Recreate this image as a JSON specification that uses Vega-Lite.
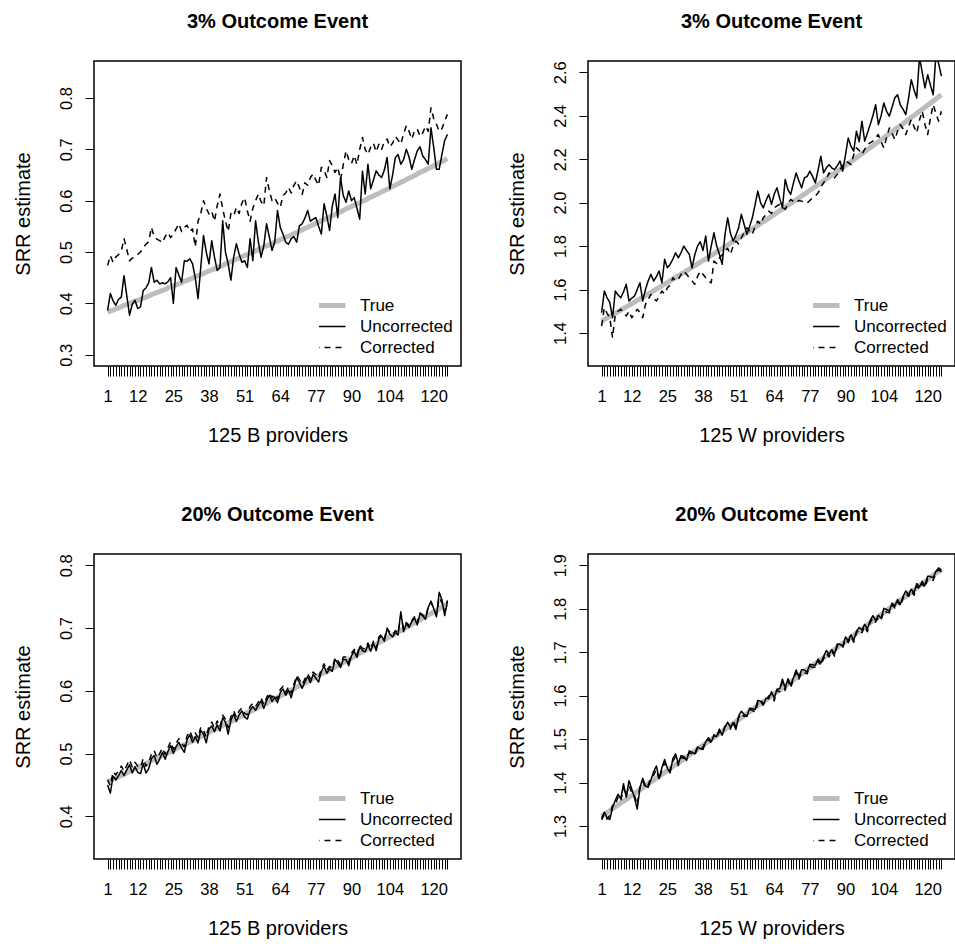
{
"$schema":"https://vega.github.io/schema/vega-lite/v6.json",
"background":"white",
"padding":{"left":12,"top":11,"right":0,"bottom":0},
"bounds":"flush",
"spacing":{"row":188,"column":127},
"columns":2,
"config":{
 "font":"Liberation Sans",
 "view":{"stroke":"black","strokeWidth":1.5},
 "axis":{"labelFont":"Liberation Sans","labelFontSize":16.5,"labelColor":"black","titleFont":"Liberation Sans","titleFontSize":20,"titleFontWeight":"normal","titleColor":"black","tickColor":"black","tickWidth":1,"domain":false,"grid":false},
 "legend":{"labelFont":"Liberation Sans","labelFontSize":17,"labelColor":"black","orient":"bottom-right","offset":8,"padding":0,"symbolSize":256,"labelOffset":20,"rowPadding":0,"clipHeight":21},
 "title":{"font":"Liberation Sans","fontSize":20,"fontWeight":"bold","color":"black","offset":29,"frame":"group","anchor":"middle","baseline":"alphabetic"},
 "line":{"strokeCap":"butt","strokeJoin":"round"}
},
"resolve":{"scale":{"x":"independent","y":"independent","color":"independent","strokeDash":"independent","strokeWidth":"independent"},"legend":{"color":"independent","strokeDash":"independent","strokeWidth":"independent"}},
"datasets":{"srr":[
{"g":"A","p":1,"True":0.383,"Uncorrected":0.386,"Corrected":0.474},
{"g":"A","p":2,"True":0.385,"Uncorrected":0.419,"Corrected":0.493},
{"g":"A","p":3,"True":0.387,"Uncorrected":0.405,"Corrected":0.480},
{"g":"A","p":4,"True":0.389,"Uncorrected":0.396,"Corrected":0.490},
{"g":"A","p":5,"True":0.391,"Uncorrected":0.408,"Corrected":0.495},
{"g":"A","p":6,"True":0.393,"Uncorrected":0.412,"Corrected":0.502},
{"g":"A","p":7,"True":0.396,"Uncorrected":0.454,"Corrected":0.526},
{"g":"A","p":8,"True":0.398,"Uncorrected":0.415,"Corrected":0.505},
{"g":"A","p":9,"True":0.400,"Uncorrected":0.377,"Corrected":0.483},
{"g":"A","p":10,"True":0.402,"Uncorrected":0.398,"Corrected":0.488},
{"g":"A","p":11,"True":0.404,"Uncorrected":0.406,"Corrected":0.490},
{"g":"A","p":12,"True":0.406,"Uncorrected":0.390,"Corrected":0.495},
{"g":"A","p":13,"True":0.408,"Uncorrected":0.393,"Corrected":0.500},
{"g":"A","p":14,"True":0.410,"Uncorrected":0.425,"Corrected":0.509},
{"g":"A","p":15,"True":0.412,"Uncorrected":0.430,"Corrected":0.515},
{"g":"A","p":16,"True":0.414,"Uncorrected":0.440,"Corrected":0.520},
{"g":"A","p":17,"True":0.417,"Uncorrected":0.470,"Corrected":0.548},
{"g":"A","p":18,"True":0.419,"Uncorrected":0.441,"Corrected":0.530},
{"g":"A","p":19,"True":0.421,"Uncorrected":0.445,"Corrected":0.525},
{"g":"A","p":20,"True":0.423,"Uncorrected":0.438,"Corrected":0.522},
{"g":"A","p":21,"True":0.425,"Uncorrected":0.440,"Corrected":0.518},
{"g":"A","p":22,"True":0.427,"Uncorrected":0.438,"Corrected":0.530},
{"g":"A","p":23,"True":0.430,"Uncorrected":0.442,"Corrected":0.538},
{"g":"A","p":24,"True":0.432,"Uncorrected":0.450,"Corrected":0.528},
{"g":"A","p":25,"True":0.434,"Uncorrected":0.400,"Corrected":0.535},
{"g":"A","p":26,"True":0.436,"Uncorrected":0.470,"Corrected":0.545},
{"g":"A","p":27,"True":0.438,"Uncorrected":0.455,"Corrected":0.555},
{"g":"A","p":28,"True":0.440,"Uncorrected":0.441,"Corrected":0.540},
{"g":"A","p":29,"True":0.443,"Uncorrected":0.483,"Corrected":0.548},
{"g":"A","p":30,"True":0.445,"Uncorrected":0.482,"Corrected":0.552},
{"g":"A","p":31,"True":0.447,"Uncorrected":0.487,"Corrected":0.540},
{"g":"A","p":32,"True":0.449,"Uncorrected":0.477,"Corrected":0.545},
{"g":"A","p":33,"True":0.452,"Uncorrected":0.450,"Corrected":0.510},
{"g":"A","p":34,"True":0.454,"Uncorrected":0.409,"Corrected":0.560},
{"g":"A","p":35,"True":0.456,"Uncorrected":0.470,"Corrected":0.575},
{"g":"A","p":36,"True":0.458,"Uncorrected":0.532,"Corrected":0.600},
{"g":"A","p":37,"True":0.461,"Uncorrected":0.500,"Corrected":0.585},
{"g":"A","p":38,"True":0.463,"Uncorrected":0.477,"Corrected":0.574},
{"g":"A","p":39,"True":0.465,"Uncorrected":0.522,"Corrected":0.580},
{"g":"A","p":40,"True":0.467,"Uncorrected":0.490,"Corrected":0.560},
{"g":"A","p":41,"True":0.470,"Uncorrected":0.464,"Corrected":0.590},
{"g":"A","p":42,"True":0.472,"Uncorrected":0.470,"Corrected":0.613},
{"g":"A","p":43,"True":0.474,"Uncorrected":0.561,"Corrected":0.585},
{"g":"A","p":44,"True":0.477,"Uncorrected":0.500,"Corrected":0.560},
{"g":"A","p":45,"True":0.479,"Uncorrected":0.477,"Corrected":0.540},
{"g":"A","p":46,"True":0.481,"Uncorrected":0.445,"Corrected":0.575},
{"g":"A","p":47,"True":0.484,"Uncorrected":0.490,"Corrected":0.570},
{"g":"A","p":48,"True":0.486,"Uncorrected":0.516,"Corrected":0.587},
{"g":"A","p":49,"True":0.488,"Uncorrected":0.496,"Corrected":0.575},
{"g":"A","p":50,"True":0.491,"Uncorrected":0.480,"Corrected":0.595},
{"g":"A","p":51,"True":0.493,"Uncorrected":0.483,"Corrected":0.606},
{"g":"A","p":52,"True":0.495,"Uncorrected":0.470,"Corrected":0.580},
{"g":"A","p":53,"True":0.498,"Uncorrected":0.526,"Corrected":0.560},
{"g":"A","p":54,"True":0.500,"Uncorrected":0.483,"Corrected":0.585},
{"g":"A","p":55,"True":0.502,"Uncorrected":0.561,"Corrected":0.600},
{"g":"A","p":56,"True":0.505,"Uncorrected":0.520,"Corrected":0.613},
{"g":"A","p":57,"True":0.507,"Uncorrected":0.490,"Corrected":0.598},
{"g":"A","p":58,"True":0.510,"Uncorrected":0.512,"Corrected":0.590},
{"g":"A","p":59,"True":0.512,"Uncorrected":0.555,"Corrected":0.645},
{"g":"A","p":60,"True":0.514,"Uncorrected":0.530,"Corrected":0.620},
{"g":"A","p":61,"True":0.516,"Uncorrected":0.503,"Corrected":0.600},
{"g":"A","p":62,"True":0.519,"Uncorrected":0.520,"Corrected":0.605},
{"g":"A","p":63,"True":0.521,"Uncorrected":0.581,"Corrected":0.595},
{"g":"A","p":64,"True":0.524,"Uncorrected":0.548,"Corrected":0.587},
{"g":"A","p":65,"True":0.526,"Uncorrected":0.535,"Corrected":0.610},
{"g":"A","p":66,"True":0.529,"Uncorrected":0.519,"Corrected":0.615},
{"g":"A","p":67,"True":0.531,"Uncorrected":0.515,"Corrected":0.626},
{"g":"A","p":68,"True":0.533,"Uncorrected":0.526,"Corrected":0.615},
{"g":"A","p":69,"True":0.536,"Uncorrected":0.530,"Corrected":0.630},
{"g":"A","p":70,"True":0.538,"Uncorrected":0.519,"Corrected":0.639},
{"g":"A","p":71,"True":0.541,"Uncorrected":0.551,"Corrected":0.625},
{"g":"A","p":72,"True":0.543,"Uncorrected":0.555,"Corrected":0.612},
{"g":"A","p":73,"True":0.546,"Uncorrected":0.566,"Corrected":0.635},
{"g":"A","p":74,"True":0.548,"Uncorrected":0.581,"Corrected":0.630},
{"g":"A","p":75,"True":0.551,"Uncorrected":0.560,"Corrected":0.645},
{"g":"A","p":76,"True":0.553,"Uncorrected":0.564,"Corrected":0.652},
{"g":"A","p":77,"True":0.556,"Uncorrected":0.567,"Corrected":0.640},
{"g":"A","p":78,"True":0.558,"Uncorrected":0.550,"Corrected":0.630},
{"g":"A","p":79,"True":0.561,"Uncorrected":0.535,"Corrected":0.665},
{"g":"A","p":80,"True":0.563,"Uncorrected":0.594,"Corrected":0.660},
{"g":"A","p":81,"True":0.566,"Uncorrected":0.570,"Corrected":0.645},
{"g":"A","p":82,"True":0.568,"Uncorrected":0.542,"Corrected":0.678},
{"g":"A","p":83,"True":0.571,"Uncorrected":0.590,"Corrected":0.668},
{"g":"A","p":84,"True":0.573,"Uncorrected":0.613,"Corrected":0.655},
{"g":"A","p":85,"True":0.576,"Uncorrected":0.567,"Corrected":0.665},
{"g":"A","p":86,"True":0.578,"Uncorrected":0.645,"Corrected":0.640},
{"g":"A","p":87,"True":0.581,"Uncorrected":0.610,"Corrected":0.670},
{"g":"A","p":88,"True":0.584,"Uncorrected":0.597,"Corrected":0.697},
{"g":"A","p":89,"True":0.586,"Uncorrected":0.619,"Corrected":0.680},
{"g":"A","p":90,"True":0.589,"Uncorrected":0.600,"Corrected":0.672},
{"g":"A","p":91,"True":0.591,"Uncorrected":0.606,"Corrected":0.688},
{"g":"A","p":92,"True":0.594,"Uncorrected":0.585,"Corrected":0.670},
{"g":"A","p":93,"True":0.596,"Uncorrected":0.564,"Corrected":0.700},
{"g":"A","p":94,"True":0.599,"Uncorrected":0.658,"Corrected":0.723},
{"g":"A","p":95,"True":0.601,"Uncorrected":0.613,"Corrected":0.700},
{"g":"A","p":96,"True":0.604,"Uncorrected":0.671,"Corrected":0.690},
{"g":"A","p":97,"True":0.607,"Uncorrected":0.623,"Corrected":0.704},
{"g":"A","p":98,"True":0.609,"Uncorrected":0.640,"Corrected":0.712},
{"g":"A","p":99,"True":0.612,"Uncorrected":0.658,"Corrected":0.695},
{"g":"A","p":100,"True":0.614,"Uncorrected":0.650,"Corrected":0.710},
{"g":"A","p":101,"True":0.617,"Uncorrected":0.645,"Corrected":0.700},
{"g":"A","p":102,"True":0.620,"Uncorrected":0.660,"Corrected":0.715},
{"g":"A","p":103,"True":0.622,"Uncorrected":0.684,"Corrected":0.720},
{"g":"A","p":104,"True":0.625,"Uncorrected":0.623,"Corrected":0.705},
{"g":"A","p":105,"True":0.628,"Uncorrected":0.650,"Corrected":0.712},
{"g":"A","p":106,"True":0.630,"Uncorrected":0.684,"Corrected":0.725},
{"g":"A","p":107,"True":0.633,"Uncorrected":0.690,"Corrected":0.718},
{"g":"A","p":108,"True":0.636,"Uncorrected":0.671,"Corrected":0.710},
{"g":"A","p":109,"True":0.638,"Uncorrected":0.680,"Corrected":0.730},
{"g":"A","p":110,"True":0.641,"Uncorrected":0.700,"Corrected":0.746},
{"g":"A","p":111,"True":0.644,"Uncorrected":0.685,"Corrected":0.735},
{"g":"A","p":112,"True":0.646,"Uncorrected":0.661,"Corrected":0.720},
{"g":"A","p":113,"True":0.649,"Uncorrected":0.680,"Corrected":0.736},
{"g":"A","p":114,"True":0.652,"Uncorrected":0.697,"Corrected":0.740},
{"g":"A","p":115,"True":0.655,"Uncorrected":0.705,"Corrected":0.725},
{"g":"A","p":116,"True":0.657,"Uncorrected":0.687,"Corrected":0.732},
{"g":"A","p":117,"True":0.660,"Uncorrected":0.680,"Corrected":0.745},
{"g":"A","p":118,"True":0.663,"Uncorrected":0.671,"Corrected":0.735},
{"g":"A","p":119,"True":0.665,"Uncorrected":0.742,"Corrected":0.781},
{"g":"A","p":120,"True":0.668,"Uncorrected":0.704,"Corrected":0.760},
{"g":"A","p":121,"True":0.671,"Uncorrected":0.661,"Corrected":0.749},
{"g":"A","p":122,"True":0.674,"Uncorrected":0.661,"Corrected":0.735},
{"g":"A","p":123,"True":0.676,"Uncorrected":0.690,"Corrected":0.740},
{"g":"A","p":124,"True":0.679,"Uncorrected":0.717,"Corrected":0.755},
{"g":"A","p":125,"True":0.682,"Uncorrected":0.729,"Corrected":0.768},
{"g":"B","p":1,"True":1.455,"Uncorrected":1.493,"Corrected":1.432},
{"g":"B","p":2,"True":1.462,"Uncorrected":1.593,"Corrected":1.516},
{"g":"B","p":3,"True":1.469,"Uncorrected":1.562,"Corrected":1.490},
{"g":"B","p":4,"True":1.477,"Uncorrected":1.540,"Corrected":1.470},
{"g":"B","p":5,"True":1.484,"Uncorrected":1.470,"Corrected":1.378},
{"g":"B","p":6,"True":1.491,"Uncorrected":1.593,"Corrected":1.486},
{"g":"B","p":7,"True":1.498,"Uncorrected":1.575,"Corrected":1.500},
{"g":"B","p":8,"True":1.506,"Uncorrected":1.562,"Corrected":1.509},
{"g":"B","p":9,"True":1.513,"Uncorrected":1.590,"Corrected":1.495},
{"g":"B","p":10,"True":1.520,"Uncorrected":1.624,"Corrected":1.478},
{"g":"B","p":11,"True":1.527,"Uncorrected":1.547,"Corrected":1.500},
{"g":"B","p":12,"True":1.535,"Uncorrected":1.560,"Corrected":1.470},
{"g":"B","p":13,"True":1.542,"Uncorrected":1.570,"Corrected":1.490},
{"g":"B","p":14,"True":1.550,"Uncorrected":1.600,"Corrected":1.509},
{"g":"B","p":15,"True":1.557,"Uncorrected":1.631,"Corrected":1.495},
{"g":"B","p":16,"True":1.565,"Uncorrected":1.547,"Corrected":1.470},
{"g":"B","p":17,"True":1.572,"Uncorrected":1.600,"Corrected":1.532},
{"g":"B","p":18,"True":1.580,"Uncorrected":1.640,"Corrected":1.555},
{"g":"B","p":19,"True":1.587,"Uncorrected":1.670,"Corrected":1.578},
{"g":"B","p":20,"True":1.594,"Uncorrected":1.639,"Corrected":1.560},
{"g":"B","p":21,"True":1.602,"Uncorrected":1.660,"Corrected":1.547},
{"g":"B","p":22,"True":1.610,"Uncorrected":1.685,"Corrected":1.570},
{"g":"B","p":23,"True":1.617,"Uncorrected":1.631,"Corrected":1.593},
{"g":"B","p":24,"True":1.625,"Uncorrected":1.739,"Corrected":1.580},
{"g":"B","p":25,"True":1.632,"Uncorrected":1.700,"Corrected":1.608},
{"g":"B","p":26,"True":1.640,"Uncorrected":1.716,"Corrected":1.620},
{"g":"B","p":27,"True":1.648,"Uncorrected":1.740,"Corrected":1.654},
{"g":"B","p":28,"True":1.655,"Uncorrected":1.769,"Corrected":1.640},
{"g":"B","p":29,"True":1.663,"Uncorrected":1.746,"Corrected":1.647},
{"g":"B","p":30,"True":1.671,"Uncorrected":1.770,"Corrected":1.670},
{"g":"B","p":31,"True":1.678,"Uncorrected":1.800,"Corrected":1.685},
{"g":"B","p":32,"True":1.686,"Uncorrected":1.780,"Corrected":1.670},
{"g":"B","p":33,"True":1.694,"Uncorrected":1.762,"Corrected":1.654},
{"g":"B","p":34,"True":1.702,"Uncorrected":1.700,"Corrected":1.640},
{"g":"B","p":35,"True":1.710,"Uncorrected":1.760,"Corrected":1.624},
{"g":"B","p":36,"True":1.718,"Uncorrected":1.800,"Corrected":1.660},
{"g":"B","p":37,"True":1.726,"Uncorrected":1.820,"Corrected":1.685},
{"g":"B","p":38,"True":1.733,"Uncorrected":1.780,"Corrected":1.670},
{"g":"B","p":39,"True":1.741,"Uncorrected":1.846,"Corrected":1.654},
{"g":"B","p":40,"True":1.749,"Uncorrected":1.731,"Corrected":1.640},
{"g":"B","p":41,"True":1.757,"Uncorrected":1.800,"Corrected":1.631},
{"g":"B","p":42,"True":1.765,"Uncorrected":1.861,"Corrected":1.731},
{"g":"B","p":43,"True":1.773,"Uncorrected":1.800,"Corrected":1.720},
{"g":"B","p":44,"True":1.781,"Uncorrected":1.762,"Corrected":1.746},
{"g":"B","p":45,"True":1.789,"Uncorrected":1.716,"Corrected":1.760},
{"g":"B","p":46,"True":1.797,"Uncorrected":1.850,"Corrected":1.777},
{"g":"B","p":47,"True":1.805,"Uncorrected":1.930,"Corrected":1.790},
{"g":"B","p":48,"True":1.813,"Uncorrected":1.860,"Corrected":1.762},
{"g":"B","p":49,"True":1.821,"Uncorrected":1.823,"Corrected":1.800},
{"g":"B","p":50,"True":1.829,"Uncorrected":1.850,"Corrected":1.823},
{"g":"B","p":51,"True":1.837,"Uncorrected":1.884,"Corrected":1.810},
{"g":"B","p":52,"True":1.846,"Uncorrected":1.946,"Corrected":1.838},
{"g":"B","p":53,"True":1.854,"Uncorrected":1.900,"Corrected":1.860},
{"g":"B","p":54,"True":1.862,"Uncorrected":1.854,"Corrected":1.884},
{"g":"B","p":55,"True":1.870,"Uncorrected":1.890,"Corrected":1.870},
{"g":"B","p":56,"True":1.879,"Uncorrected":1.930,"Corrected":1.854},
{"g":"B","p":57,"True":1.887,"Uncorrected":1.990,"Corrected":1.890},
{"g":"B","p":58,"True":1.895,"Uncorrected":2.053,"Corrected":1.915},
{"g":"B","p":59,"True":1.904,"Uncorrected":2.000,"Corrected":1.900},
{"g":"B","p":60,"True":1.912,"Uncorrected":1.976,"Corrected":1.930},
{"g":"B","p":61,"True":1.920,"Uncorrected":2.010,"Corrected":1.945},
{"g":"B","p":62,"True":1.928,"Uncorrected":2.038,"Corrected":1.961},
{"g":"B","p":63,"True":1.937,"Uncorrected":1.992,"Corrected":1.950},
{"g":"B","p":64,"True":1.945,"Uncorrected":2.040,"Corrected":1.976},
{"g":"B","p":65,"True":1.954,"Uncorrected":2.068,"Corrected":1.985},
{"g":"B","p":66,"True":1.962,"Uncorrected":2.020,"Corrected":1.992},
{"g":"B","p":67,"True":1.971,"Uncorrected":1.976,"Corrected":1.980},
{"g":"B","p":68,"True":1.979,"Uncorrected":2.107,"Corrected":1.969},
{"g":"B","p":69,"True":1.988,"Uncorrected":2.060,"Corrected":1.995},
{"g":"B","p":70,"True":1.996,"Uncorrected":2.038,"Corrected":2.015},
{"g":"B","p":71,"True":2.005,"Uncorrected":2.090,"Corrected":2.005},
{"g":"B","p":72,"True":2.013,"Uncorrected":2.137,"Corrected":1.999},
{"g":"B","p":73,"True":2.022,"Uncorrected":2.100,"Corrected":2.010},
{"g":"B","p":74,"True":2.031,"Uncorrected":2.068,"Corrected":2.007},
{"g":"B","p":75,"True":2.039,"Uncorrected":2.114,"Corrected":2.000},
{"g":"B","p":76,"True":2.048,"Uncorrected":2.120,"Corrected":1.999},
{"g":"B","p":77,"True":2.057,"Uncorrected":2.145,"Corrected":2.010},
{"g":"B","p":78,"True":2.065,"Uncorrected":2.120,"Corrected":2.022},
{"g":"B","p":79,"True":2.074,"Uncorrected":2.091,"Corrected":2.030},
{"g":"B","p":80,"True":2.083,"Uncorrected":2.150,"Corrected":2.045},
{"g":"B","p":81,"True":2.091,"Uncorrected":2.214,"Corrected":2.070},
{"g":"B","p":82,"True":2.100,"Uncorrected":2.137,"Corrected":2.091},
{"g":"B","p":83,"True":2.109,"Uncorrected":2.160,"Corrected":2.110},
{"g":"B","p":84,"True":2.118,"Uncorrected":2.175,"Corrected":2.137},
{"g":"B","p":85,"True":2.127,"Uncorrected":2.160,"Corrected":2.125},
{"g":"B","p":86,"True":2.136,"Uncorrected":2.152,"Corrected":2.114},
{"g":"B","p":87,"True":2.144,"Uncorrected":2.170,"Corrected":2.130},
{"g":"B","p":88,"True":2.153,"Uncorrected":2.191,"Corrected":2.152},
{"g":"B","p":89,"True":2.162,"Uncorrected":2.145,"Corrected":2.170},
{"g":"B","p":90,"True":2.171,"Uncorrected":2.220,"Corrected":2.191},
{"g":"B","p":91,"True":2.180,"Uncorrected":2.298,"Corrected":2.185},
{"g":"B","p":92,"True":2.189,"Uncorrected":2.260,"Corrected":2.175},
{"g":"B","p":93,"True":2.198,"Uncorrected":2.237,"Corrected":2.220},
{"g":"B","p":94,"True":2.207,"Uncorrected":2.329,"Corrected":2.252},
{"g":"B","p":95,"True":2.216,"Uncorrected":2.280,"Corrected":2.240},
{"g":"B","p":96,"True":2.225,"Uncorrected":2.375,"Corrected":2.222},
{"g":"B","p":97,"True":2.235,"Uncorrected":2.283,"Corrected":2.245},
{"g":"B","p":98,"True":2.244,"Uncorrected":2.320,"Corrected":2.267},
{"g":"B","p":99,"True":2.253,"Uncorrected":2.359,"Corrected":2.275},
{"g":"B","p":100,"True":2.262,"Uncorrected":2.400,"Corrected":2.283},
{"g":"B","p":101,"True":2.271,"Uncorrected":2.451,"Corrected":2.300},
{"g":"B","p":102,"True":2.280,"Uncorrected":2.359,"Corrected":2.313},
{"g":"B","p":103,"True":2.289,"Uncorrected":2.400,"Corrected":2.280},
{"g":"B","p":104,"True":2.298,"Uncorrected":2.459,"Corrected":2.252},
{"g":"B","p":105,"True":2.308,"Uncorrected":2.420,"Corrected":2.300},
{"g":"B","p":106,"True":2.317,"Uncorrected":2.398,"Corrected":2.344},
{"g":"B","p":107,"True":2.326,"Uncorrected":2.440,"Corrected":2.320},
{"g":"B","p":108,"True":2.336,"Uncorrected":2.482,"Corrected":2.290},
{"g":"B","p":109,"True":2.345,"Uncorrected":2.497,"Corrected":2.330},
{"g":"B","p":110,"True":2.354,"Uncorrected":2.450,"Corrected":2.359},
{"g":"B","p":111,"True":2.363,"Uncorrected":2.430,"Corrected":2.340},
{"g":"B","p":112,"True":2.373,"Uncorrected":2.405,"Corrected":2.313},
{"g":"B","p":113,"True":2.382,"Uncorrected":2.480,"Corrected":2.350},
{"g":"B","p":114,"True":2.392,"Uncorrected":2.566,"Corrected":2.382},
{"g":"B","p":115,"True":2.401,"Uncorrected":2.520,"Corrected":2.350},
{"g":"B","p":116,"True":2.411,"Uncorrected":2.482,"Corrected":2.321},
{"g":"B","p":117,"True":2.420,"Uncorrected":2.670,"Corrected":2.380},
{"g":"B","p":118,"True":2.430,"Uncorrected":2.600,"Corrected":2.421},
{"g":"B","p":119,"True":2.439,"Uncorrected":2.528,"Corrected":2.360},
{"g":"B","p":120,"True":2.449,"Uncorrected":2.589,"Corrected":2.313},
{"g":"B","p":121,"True":2.458,"Uncorrected":2.540,"Corrected":2.390},
{"g":"B","p":122,"True":2.468,"Uncorrected":2.497,"Corrected":2.451},
{"g":"B","p":123,"True":2.477,"Uncorrected":2.680,"Corrected":2.410},
{"g":"B","p":124,"True":2.487,"Uncorrected":2.640,"Corrected":2.375},
{"g":"B","p":125,"True":2.497,"Uncorrected":2.582,"Corrected":2.421},
{"g":"C","p":1,"True":0.455,"Uncorrected":0.450,"Corrected":0.458},
{"g":"C","p":2,"True":0.457,"Uncorrected":0.437,"Corrected":0.449},
{"g":"C","p":3,"True":0.459,"Uncorrected":0.464,"Corrected":0.471},
{"g":"C","p":4,"True":0.461,"Uncorrected":0.458,"Corrected":0.466},
{"g":"C","p":5,"True":0.463,"Uncorrected":0.465,"Corrected":0.473},
{"g":"C","p":6,"True":0.465,"Uncorrected":0.473,"Corrected":0.480},
{"g":"C","p":7,"True":0.467,"Uncorrected":0.465,"Corrected":0.472},
{"g":"C","p":8,"True":0.469,"Uncorrected":0.474,"Corrected":0.481},
{"g":"C","p":9,"True":0.472,"Uncorrected":0.482,"Corrected":0.490},
{"g":"C","p":10,"True":0.474,"Uncorrected":0.469,"Corrected":0.478},
{"g":"C","p":11,"True":0.476,"Uncorrected":0.479,"Corrected":0.486},
{"g":"C","p":12,"True":0.478,"Uncorrected":0.470,"Corrected":0.480},
{"g":"C","p":13,"True":0.480,"Uncorrected":0.468,"Corrected":0.478},
{"g":"C","p":14,"True":0.482,"Uncorrected":0.484,"Corrected":0.492},
{"g":"C","p":15,"True":0.484,"Uncorrected":0.469,"Corrected":0.480},
{"g":"C","p":16,"True":0.486,"Uncorrected":0.476,"Corrected":0.486},
{"g":"C","p":17,"True":0.489,"Uncorrected":0.492,"Corrected":0.499},
{"g":"C","p":18,"True":0.491,"Uncorrected":0.497,"Corrected":0.505},
{"g":"C","p":19,"True":0.493,"Uncorrected":0.483,"Corrected":0.493},
{"g":"C","p":20,"True":0.495,"Uncorrected":0.491,"Corrected":0.500},
{"g":"C","p":21,"True":0.497,"Uncorrected":0.502,"Corrected":0.509},
{"g":"C","p":22,"True":0.499,"Uncorrected":0.491,"Corrected":0.499},
{"g":"C","p":23,"True":0.501,"Uncorrected":0.503,"Corrected":0.509},
{"g":"C","p":24,"True":0.503,"Uncorrected":0.513,"Corrected":0.519},
{"g":"C","p":25,"True":0.505,"Uncorrected":0.500,"Corrected":0.507},
{"g":"C","p":26,"True":0.508,"Uncorrected":0.511,"Corrected":0.516},
{"g":"C","p":27,"True":0.510,"Uncorrected":0.518,"Corrected":0.524},
{"g":"C","p":28,"True":0.512,"Uncorrected":0.509,"Corrected":0.516},
{"g":"C","p":29,"True":0.514,"Uncorrected":0.502,"Corrected":0.511},
{"g":"C","p":30,"True":0.516,"Uncorrected":0.522,"Corrected":0.528},
{"g":"C","p":31,"True":0.518,"Uncorrected":0.530,"Corrected":0.536},
{"g":"C","p":32,"True":0.520,"Uncorrected":0.518,"Corrected":0.525},
{"g":"C","p":33,"True":0.523,"Uncorrected":0.527,"Corrected":0.533},
{"g":"C","p":34,"True":0.525,"Uncorrected":0.517,"Corrected":0.525},
{"g":"C","p":35,"True":0.527,"Uncorrected":0.537,"Corrected":0.542},
{"g":"C","p":36,"True":0.529,"Uncorrected":0.531,"Corrected":0.537},
{"g":"C","p":37,"True":0.531,"Uncorrected":0.517,"Corrected":0.526},
{"g":"C","p":38,"True":0.534,"Uncorrected":0.539,"Corrected":0.544},
{"g":"C","p":39,"True":0.536,"Uncorrected":0.544,"Corrected":0.550},
{"g":"C","p":40,"True":0.538,"Uncorrected":0.535,"Corrected":0.541},
{"g":"C","p":41,"True":0.540,"Uncorrected":0.546,"Corrected":0.552},
{"g":"C","p":42,"True":0.542,"Uncorrected":0.536,"Corrected":0.542},
{"g":"C","p":43,"True":0.545,"Uncorrected":0.557,"Corrected":0.561},
{"g":"C","p":44,"True":0.547,"Uncorrected":0.550,"Corrected":0.555},
{"g":"C","p":45,"True":0.549,"Uncorrected":0.531,"Corrected":0.541},
{"g":"C","p":46,"True":0.551,"Uncorrected":0.553,"Corrected":0.559},
{"g":"C","p":47,"True":0.553,"Uncorrected":0.563,"Corrected":0.568},
{"g":"C","p":48,"True":0.556,"Uncorrected":0.551,"Corrected":0.558},
{"g":"C","p":49,"True":0.558,"Uncorrected":0.562,"Corrected":0.568},
{"g":"C","p":50,"True":0.560,"Uncorrected":0.568,"Corrected":0.573},
{"g":"C","p":51,"True":0.562,"Uncorrected":0.558,"Corrected":0.564},
{"g":"C","p":52,"True":0.565,"Uncorrected":0.555,"Corrected":0.562},
{"g":"C","p":53,"True":0.567,"Uncorrected":0.569,"Corrected":0.575},
{"g":"C","p":54,"True":0.569,"Uncorrected":0.575,"Corrected":0.580},
{"g":"C","p":55,"True":0.571,"Uncorrected":0.569,"Corrected":0.575},
{"g":"C","p":56,"True":0.574,"Uncorrected":0.577,"Corrected":0.582},
{"g":"C","p":57,"True":0.576,"Uncorrected":0.584,"Corrected":0.589},
{"g":"C","p":58,"True":0.578,"Uncorrected":0.572,"Corrected":0.578},
{"g":"C","p":59,"True":0.580,"Uncorrected":0.584,"Corrected":0.589},
{"g":"C","p":60,"True":0.583,"Uncorrected":0.593,"Corrected":0.597},
{"g":"C","p":61,"True":0.585,"Uncorrected":0.583,"Corrected":0.589},
{"g":"C","p":62,"True":0.587,"Uncorrected":0.590,"Corrected":0.595},
{"g":"C","p":63,"True":0.589,"Uncorrected":0.581,"Corrected":0.587},
{"g":"C","p":64,"True":0.592,"Uncorrected":0.597,"Corrected":0.602},
{"g":"C","p":65,"True":0.594,"Uncorrected":0.603,"Corrected":0.607},
{"g":"C","p":66,"True":0.596,"Uncorrected":0.593,"Corrected":0.598},
{"g":"C","p":67,"True":0.599,"Uncorrected":0.601,"Corrected":0.606},
{"g":"C","p":68,"True":0.601,"Uncorrected":0.589,"Corrected":0.596},
{"g":"C","p":69,"True":0.603,"Uncorrected":0.606,"Corrected":0.611},
{"g":"C","p":70,"True":0.606,"Uncorrected":0.621,"Corrected":0.624},
{"g":"C","p":71,"True":0.608,"Uncorrected":0.613,"Corrected":0.618},
{"g":"C","p":72,"True":0.610,"Uncorrected":0.604,"Corrected":0.610},
{"g":"C","p":73,"True":0.612,"Uncorrected":0.614,"Corrected":0.619},
{"g":"C","p":74,"True":0.615,"Uncorrected":0.623,"Corrected":0.627},
{"g":"C","p":75,"True":0.617,"Uncorrected":0.613,"Corrected":0.619},
{"g":"C","p":76,"True":0.620,"Uncorrected":0.626,"Corrected":0.630},
{"g":"C","p":77,"True":0.622,"Uncorrected":0.620,"Corrected":0.626},
{"g":"C","p":78,"True":0.624,"Uncorrected":0.614,"Corrected":0.620},
{"g":"C","p":79,"True":0.627,"Uncorrected":0.631,"Corrected":0.635},
{"g":"C","p":80,"True":0.629,"Uncorrected":0.639,"Corrected":0.643},
{"g":"C","p":81,"True":0.631,"Uncorrected":0.628,"Corrected":0.633},
{"g":"C","p":82,"True":0.633,"Uncorrected":0.635,"Corrected":0.639},
{"g":"C","p":83,"True":0.636,"Uncorrected":0.631,"Corrected":0.636},
{"g":"C","p":84,"True":0.638,"Uncorrected":0.650,"Corrected":0.653},
{"g":"C","p":85,"True":0.641,"Uncorrected":0.644,"Corrected":0.648},
{"g":"C","p":86,"True":0.643,"Uncorrected":0.637,"Corrected":0.641},
{"g":"C","p":87,"True":0.645,"Uncorrected":0.650,"Corrected":0.654},
{"g":"C","p":88,"True":0.648,"Uncorrected":0.650,"Corrected":0.654},
{"g":"C","p":89,"True":0.650,"Uncorrected":0.640,"Corrected":0.645},
{"g":"C","p":90,"True":0.652,"Uncorrected":0.656,"Corrected":0.660},
{"g":"C","p":91,"True":0.655,"Uncorrected":0.663,"Corrected":0.666},
{"g":"C","p":92,"True":0.657,"Uncorrected":0.653,"Corrected":0.657},
{"g":"C","p":93,"True":0.660,"Uncorrected":0.670,"Corrected":0.673},
{"g":"C","p":94,"True":0.662,"Uncorrected":0.664,"Corrected":0.668},
{"g":"C","p":95,"True":0.665,"Uncorrected":0.662,"Corrected":0.666},
{"g":"C","p":96,"True":0.667,"Uncorrected":0.673,"Corrected":0.676},
{"g":"C","p":97,"True":0.669,"Uncorrected":0.663,"Corrected":0.667},
{"g":"C","p":98,"True":0.672,"Uncorrected":0.676,"Corrected":0.679},
{"g":"C","p":99,"True":0.674,"Uncorrected":0.664,"Corrected":0.668},
{"g":"C","p":100,"True":0.677,"Uncorrected":0.683,"Corrected":0.686},
{"g":"C","p":101,"True":0.679,"Uncorrected":0.687,"Corrected":0.690},
{"g":"C","p":102,"True":0.681,"Uncorrected":0.679,"Corrected":0.683},
{"g":"C","p":103,"True":0.684,"Uncorrected":0.699,"Corrected":0.700},
{"g":"C","p":104,"True":0.686,"Uncorrected":0.690,"Corrected":0.693},
{"g":"C","p":105,"True":0.689,"Uncorrected":0.686,"Corrected":0.689},
{"g":"C","p":106,"True":0.691,"Uncorrected":0.693,"Corrected":0.696},
{"g":"C","p":107,"True":0.694,"Uncorrected":0.689,"Corrected":0.692},
{"g":"C","p":108,"True":0.696,"Uncorrected":0.726,"Corrected":0.720},
{"g":"C","p":109,"True":0.699,"Uncorrected":0.694,"Corrected":0.699},
{"g":"C","p":110,"True":0.701,"Uncorrected":0.707,"Corrected":0.709},
{"g":"C","p":111,"True":0.703,"Uncorrected":0.701,"Corrected":0.704},
{"g":"C","p":112,"True":0.706,"Uncorrected":0.710,"Corrected":0.712},
{"g":"C","p":113,"True":0.708,"Uncorrected":0.716,"Corrected":0.718},
{"g":"C","p":114,"True":0.711,"Uncorrected":0.705,"Corrected":0.708},
{"g":"C","p":115,"True":0.713,"Uncorrected":0.723,"Corrected":0.724},
{"g":"C","p":116,"True":0.716,"Uncorrected":0.719,"Corrected":0.721},
{"g":"C","p":117,"True":0.718,"Uncorrected":0.714,"Corrected":0.717},
{"g":"C","p":118,"True":0.721,"Uncorrected":0.733,"Corrected":0.734},
{"g":"C","p":119,"True":0.723,"Uncorrected":0.743,"Corrected":0.741},
{"g":"C","p":120,"True":0.726,"Uncorrected":0.731,"Corrected":0.732},
{"g":"C","p":121,"True":0.728,"Uncorrected":0.718,"Corrected":0.722},
{"g":"C","p":122,"True":0.731,"Uncorrected":0.757,"Corrected":0.748},
{"g":"C","p":123,"True":0.733,"Uncorrected":0.745,"Corrected":0.740},
{"g":"C","p":124,"True":0.736,"Uncorrected":0.720,"Corrected":0.726},
{"g":"C","p":125,"True":0.738,"Uncorrected":0.742,"Corrected":0.744},
{"g":"D","p":1,"True":1.322,"Uncorrected":1.318,"Corrected":1.314},
{"g":"D","p":2,"True":1.326,"Uncorrected":1.332,"Corrected":1.328},
{"g":"D","p":3,"True":1.331,"Uncorrected":1.319,"Corrected":1.316},
{"g":"D","p":4,"True":1.335,"Uncorrected":1.315,"Corrected":1.325},
{"g":"D","p":5,"True":1.340,"Uncorrected":1.342,"Corrected":1.348},
{"g":"D","p":6,"True":1.344,"Uncorrected":1.359,"Corrected":1.349},
{"g":"D","p":7,"True":1.348,"Uncorrected":1.373,"Corrected":1.366},
{"g":"D","p":8,"True":1.353,"Uncorrected":1.363,"Corrected":1.357},
{"g":"D","p":9,"True":1.357,"Uncorrected":1.397,"Corrected":1.387},
{"g":"D","p":10,"True":1.361,"Uncorrected":1.366,"Corrected":1.369},
{"g":"D","p":11,"True":1.366,"Uncorrected":1.404,"Corrected":1.394},
{"g":"D","p":12,"True":1.370,"Uncorrected":1.385,"Corrected":1.376},
{"g":"D","p":13,"True":1.375,"Uncorrected":1.365,"Corrected":1.370},
{"g":"D","p":14,"True":1.379,"Uncorrected":1.339,"Corrected":1.349},
{"g":"D","p":15,"True":1.383,"Uncorrected":1.388,"Corrected":1.391},
{"g":"D","p":16,"True":1.388,"Uncorrected":1.410,"Corrected":1.403},
{"g":"D","p":17,"True":1.392,"Uncorrected":1.392,"Corrected":1.388},
{"g":"D","p":18,"True":1.397,"Uncorrected":1.389,"Corrected":1.395},
{"g":"D","p":19,"True":1.401,"Uncorrected":1.406,"Corrected":1.411},
{"g":"D","p":20,"True":1.405,"Uncorrected":1.425,"Corrected":1.417},
{"g":"D","p":21,"True":1.410,"Uncorrected":1.438,"Corrected":1.430},
{"g":"D","p":22,"True":1.414,"Uncorrected":1.409,"Corrected":1.406},
{"g":"D","p":23,"True":1.419,"Uncorrected":1.434,"Corrected":1.429},
{"g":"D","p":24,"True":1.423,"Uncorrected":1.453,"Corrected":1.445},
{"g":"D","p":25,"True":1.428,"Uncorrected":1.433,"Corrected":1.436},
{"g":"D","p":26,"True":1.432,"Uncorrected":1.422,"Corrected":1.427},
{"g":"D","p":27,"True":1.437,"Uncorrected":1.455,"Corrected":1.449},
{"g":"D","p":28,"True":1.441,"Uncorrected":1.466,"Corrected":1.459},
{"g":"D","p":29,"True":1.445,"Uncorrected":1.443,"Corrected":1.439},
{"g":"D","p":30,"True":1.450,"Uncorrected":1.462,"Corrected":1.458},
{"g":"D","p":31,"True":1.454,"Uncorrected":1.460,"Corrected":1.456},
{"g":"D","p":32,"True":1.459,"Uncorrected":1.451,"Corrected":1.455},
{"g":"D","p":33,"True":1.463,"Uncorrected":1.473,"Corrected":1.469},
{"g":"D","p":34,"True":1.468,"Uncorrected":1.470,"Corrected":1.466},
{"g":"D","p":35,"True":1.472,"Uncorrected":1.466,"Corrected":1.462},
{"g":"D","p":36,"True":1.477,"Uncorrected":1.482,"Corrected":1.480},
{"g":"D","p":37,"True":1.481,"Uncorrected":1.478,"Corrected":1.475},
{"g":"D","p":38,"True":1.486,"Uncorrected":1.476,"Corrected":1.482},
{"g":"D","p":39,"True":1.490,"Uncorrected":1.494,"Corrected":1.498},
{"g":"D","p":40,"True":1.495,"Uncorrected":1.503,"Corrected":1.498},
{"g":"D","p":41,"True":1.499,"Uncorrected":1.494,"Corrected":1.491},
{"g":"D","p":42,"True":1.504,"Uncorrected":1.507,"Corrected":1.510},
{"g":"D","p":43,"True":1.508,"Uncorrected":1.506,"Corrected":1.503},
{"g":"D","p":44,"True":1.513,"Uncorrected":1.523,"Corrected":1.518},
{"g":"D","p":45,"True":1.517,"Uncorrected":1.509,"Corrected":1.513},
{"g":"D","p":46,"True":1.522,"Uncorrected":1.527,"Corrected":1.530},
{"g":"D","p":47,"True":1.527,"Uncorrected":1.539,"Corrected":1.531},
{"g":"D","p":48,"True":1.531,"Uncorrected":1.527,"Corrected":1.523},
{"g":"D","p":49,"True":1.536,"Uncorrected":1.538,"Corrected":1.542},
{"g":"D","p":50,"True":1.540,"Uncorrected":1.522,"Corrected":1.528},
{"g":"D","p":51,"True":1.545,"Uncorrected":1.553,"Corrected":1.549},
{"g":"D","p":52,"True":1.549,"Uncorrected":1.564,"Corrected":1.559},
{"g":"D","p":53,"True":1.554,"Uncorrected":1.557,"Corrected":1.552},
{"g":"D","p":54,"True":1.558,"Uncorrected":1.552,"Corrected":1.554},
{"g":"D","p":55,"True":1.563,"Uncorrected":1.571,"Corrected":1.568},
{"g":"D","p":56,"True":1.568,"Uncorrected":1.570,"Corrected":1.566},
{"g":"D","p":57,"True":1.572,"Uncorrected":1.568,"Corrected":1.562},
{"g":"D","p":58,"True":1.577,"Uncorrected":1.589,"Corrected":1.583},
{"g":"D","p":59,"True":1.581,"Uncorrected":1.587,"Corrected":1.591},
{"g":"D","p":60,"True":1.586,"Uncorrected":1.578,"Corrected":1.581},
{"g":"D","p":61,"True":1.590,"Uncorrected":1.594,"Corrected":1.588},
{"g":"D","p":62,"True":1.595,"Uncorrected":1.593,"Corrected":1.599},
{"g":"D","p":63,"True":1.599,"Uncorrected":1.609,"Corrected":1.604},
{"g":"D","p":64,"True":1.604,"Uncorrected":1.594,"Corrected":1.588},
{"g":"D","p":65,"True":1.609,"Uncorrected":1.615,"Corrected":1.612},
{"g":"D","p":66,"True":1.613,"Uncorrected":1.616,"Corrected":1.609},
{"g":"D","p":67,"True":1.618,"Uncorrected":1.638,"Corrected":1.632},
{"g":"D","p":68,"True":1.622,"Uncorrected":1.617,"Corrected":1.612},
{"g":"D","p":69,"True":1.627,"Uncorrected":1.639,"Corrected":1.635},
{"g":"D","p":70,"True":1.632,"Uncorrected":1.624,"Corrected":1.618},
{"g":"D","p":71,"True":1.636,"Uncorrected":1.641,"Corrected":1.638},
{"g":"D","p":72,"True":1.641,"Uncorrected":1.659,"Corrected":1.653},
{"g":"D","p":73,"True":1.646,"Uncorrected":1.643,"Corrected":1.638},
{"g":"D","p":74,"True":1.650,"Uncorrected":1.660,"Corrected":1.655},
{"g":"D","p":75,"True":1.655,"Uncorrected":1.659,"Corrected":1.653},
{"g":"D","p":76,"True":1.660,"Uncorrected":1.654,"Corrected":1.650},
{"g":"D","p":77,"True":1.664,"Uncorrected":1.672,"Corrected":1.668},
{"g":"D","p":78,"True":1.669,"Uncorrected":1.671,"Corrected":1.665},
{"g":"D","p":79,"True":1.674,"Uncorrected":1.670,"Corrected":1.666},
{"g":"D","p":80,"True":1.678,"Uncorrected":1.684,"Corrected":1.680},
{"g":"D","p":81,"True":1.683,"Uncorrected":1.675,"Corrected":1.669},
{"g":"D","p":82,"True":1.687,"Uncorrected":1.690,"Corrected":1.685},
{"g":"D","p":83,"True":1.692,"Uncorrected":1.704,"Corrected":1.698},
{"g":"D","p":84,"True":1.697,"Uncorrected":1.695,"Corrected":1.689},
{"g":"D","p":85,"True":1.701,"Uncorrected":1.706,"Corrected":1.703},
{"g":"D","p":86,"True":1.706,"Uncorrected":1.696,"Corrected":1.691},
{"g":"D","p":87,"True":1.711,"Uncorrected":1.719,"Corrected":1.715},
{"g":"D","p":88,"True":1.716,"Uncorrected":1.718,"Corrected":1.712},
{"g":"D","p":89,"True":1.720,"Uncorrected":1.714,"Corrected":1.710},
{"g":"D","p":90,"True":1.725,"Uncorrected":1.735,"Corrected":1.730},
{"g":"D","p":91,"True":1.730,"Uncorrected":1.726,"Corrected":1.722},
{"g":"D","p":92,"True":1.734,"Uncorrected":1.740,"Corrected":1.736},
{"g":"D","p":93,"True":1.739,"Uncorrected":1.727,"Corrected":1.723},
{"g":"D","p":94,"True":1.744,"Uncorrected":1.748,"Corrected":1.744},
{"g":"D","p":95,"True":1.749,"Uncorrected":1.757,"Corrected":1.753},
{"g":"D","p":96,"True":1.753,"Uncorrected":1.751,"Corrected":1.745},
{"g":"D","p":97,"True":1.758,"Uncorrected":1.764,"Corrected":1.760},
{"g":"D","p":98,"True":1.763,"Uncorrected":1.753,"Corrected":1.747},
{"g":"D","p":99,"True":1.768,"Uncorrected":1.773,"Corrected":1.768},
{"g":"D","p":100,"True":1.772,"Uncorrected":1.784,"Corrected":1.778},
{"g":"D","p":101,"True":1.777,"Uncorrected":1.773,"Corrected":1.769},
{"g":"D","p":102,"True":1.782,"Uncorrected":1.785,"Corrected":1.780},
{"g":"D","p":103,"True":1.786,"Uncorrected":1.778,"Corrected":1.774},
{"g":"D","p":104,"True":1.791,"Uncorrected":1.801,"Corrected":1.796},
{"g":"D","p":105,"True":1.796,"Uncorrected":1.798,"Corrected":1.792},
{"g":"D","p":106,"True":1.801,"Uncorrected":1.795,"Corrected":1.791},
{"g":"D","p":107,"True":1.805,"Uncorrected":1.813,"Corrected":1.809},
{"g":"D","p":108,"True":1.810,"Uncorrected":1.806,"Corrected":1.802},
{"g":"D","p":109,"True":1.815,"Uncorrected":1.821,"Corrected":1.817},
{"g":"D","p":110,"True":1.820,"Uncorrected":1.810,"Corrected":1.806},
{"g":"D","p":111,"True":1.824,"Uncorrected":1.828,"Corrected":1.824},
{"g":"D","p":112,"True":1.829,"Uncorrected":1.841,"Corrected":1.835},
{"g":"D","p":113,"True":1.834,"Uncorrected":1.832,"Corrected":1.828},
{"g":"D","p":114,"True":1.839,"Uncorrected":1.845,"Corrected":1.841},
{"g":"D","p":115,"True":1.843,"Uncorrected":1.837,"Corrected":1.831},
{"g":"D","p":116,"True":1.848,"Uncorrected":1.858,"Corrected":1.853},
{"g":"D","p":117,"True":1.853,"Uncorrected":1.850,"Corrected":1.845},
{"g":"D","p":118,"True":1.858,"Uncorrected":1.863,"Corrected":1.858},
{"g":"D","p":119,"True":1.862,"Uncorrected":1.854,"Corrected":1.848},
{"g":"D","p":120,"True":1.867,"Uncorrected":1.875,"Corrected":1.870},
{"g":"D","p":121,"True":1.872,"Uncorrected":1.874,"Corrected":1.868},
{"g":"D","p":122,"True":1.877,"Uncorrected":1.871,"Corrected":1.865},
{"g":"D","p":123,"True":1.882,"Uncorrected":1.886,"Corrected":1.882},
{"g":"D","p":124,"True":1.886,"Uncorrected":1.894,"Corrected":1.890},
{"g":"D","p":125,"True":1.891,"Uncorrected":1.889,"Corrected":1.885}
]},
"data":{"name":"srr"},
"concat":[
{"width":367,"height":305,"title":{"text":"3% Outcome Event"},
 "transform":[{"filter":"datum.g === 'A'"},{"fold":["True","Uncorrected","Corrected"],"as":["series","value"]}],
 "mark":{"type":"line","clip":true},
 "encoding":{
  "x":{"field":"p","type":"quantitative","scale":{"domain":[-3.96,129.96],"nice":false,"zero":false},
   "axis":{"title":"125 B providers","tickSize":10,"labelPadding":12,"titlePadding":21,"labelOverlap":false,"labelBound":false,"labelFlush":false,
    "values":[1,2,3,4,5,6,7,8,9,10,11,12,13,14,15,16,17,18,19,20,21,22,23,24,25,26,27,28,29,30,31,32,33,34,35,36,37,38,39,40,41,42,43,44,45,46,47,48,49,50,51,52,53,54,55,56,57,58,59,60,61,62,63,64,65,66,67,68,69,70,71,72,73,74,75,76,77,78,79,80,81,82,83,84,85,86,87,88,89,90,91,92,93,94,95,96,97,98,99,100,101,102,103,104,105,106,107,108,109,110,111,112,113,114,115,116,117,118,119,120,121,122,123,124,125],
    "labelExpr":"indexof([1,12,25,38,51,64,77,90,104,120], datum.value) >= 0 ? datum.label : ''"}},
  "y":{"field":"value","type":"quantitative","scale":{"domain":[0.278,0.872],"nice":false,"zero":false},
   "axis":{"title":"SRR estimate","values":[0.3,0.4,0.5,0.6,0.7,0.8],"format":".1f","tickSize":9,"labelPadding":14,"labelAngle":-90,"labelAlign":"center","labelBaseline":"alphabetic","titlePadding":25}},
  "color":{"field":"series","type":"nominal","scale":{"domain":["True","Uncorrected","Corrected"],"range":["#bdbdbd","#000000","#000000"]},"legend":{"title":null,"symbolType":"M-2,0H2"}},
  "strokeDash":{"field":"series","type":"nominal","scale":{"domain":["True","Uncorrected","Corrected"],"range":[[1,0],[1,0],[6,5]]},"legend":{"title":null,"symbolType":"M-2,0H2"}},
  "strokeWidth":{"field":"series","type":"nominal","scale":{"type":"ordinal","domain":["True","Uncorrected","Corrected"],"range":[5,1.5,1.5]},"legend":{"title":null,"symbolType":"M-2,0H2"}}
 }},
{"width":367,"height":305,"title":{"text":"3% Outcome Event"},
 "transform":[{"filter":"datum.g === 'B'"},{"fold":["True","Uncorrected","Corrected"],"as":["series","value"]}],
 "mark":{"type":"line","clip":true},
 "encoding":{
  "x":{"field":"p","type":"quantitative","scale":{"domain":[-3.96,129.96],"nice":false,"zero":false},
   "axis":{"title":"125 W providers","tickSize":10,"labelPadding":12,"titlePadding":21,"labelOverlap":false,"labelBound":false,"labelFlush":false,
    "values":[1,2,3,4,5,6,7,8,9,10,11,12,13,14,15,16,17,18,19,20,21,22,23,24,25,26,27,28,29,30,31,32,33,34,35,36,37,38,39,40,41,42,43,44,45,46,47,48,49,50,51,52,53,54,55,56,57,58,59,60,61,62,63,64,65,66,67,68,69,70,71,72,73,74,75,76,77,78,79,80,81,82,83,84,85,86,87,88,89,90,91,92,93,94,95,96,97,98,99,100,101,102,103,104,105,106,107,108,109,110,111,112,113,114,115,116,117,118,119,120,121,122,123,124,125],
    "labelExpr":"indexof([1,12,25,38,51,64,77,90,104,120], datum.value) >= 0 ? datum.label : ''"}},
  "y":{"field":"value","type":"quantitative","scale":{"domain":[1.248,2.652],"nice":false,"zero":false},
   "axis":{"title":"SRR estimate","values":[1.4,1.6,1.8,2.0,2.2,2.4,2.6],"format":".1f","tickSize":9,"labelPadding":14,"labelAngle":-90,"labelAlign":"center","labelBaseline":"alphabetic","titlePadding":25}},
  "color":{"field":"series","type":"nominal","scale":{"domain":["True","Uncorrected","Corrected"],"range":["#bdbdbd","#000000","#000000"]},"legend":{"title":null,"symbolType":"M-2,0H2"}},
  "strokeDash":{"field":"series","type":"nominal","scale":{"domain":["True","Uncorrected","Corrected"],"range":[[1,0],[1,0],[6,5]]},"legend":{"title":null,"symbolType":"M-2,0H2"}},
  "strokeWidth":{"field":"series","type":"nominal","scale":{"type":"ordinal","domain":["True","Uncorrected","Corrected"],"range":[5,1.5,1.5]},"legend":{"title":null,"symbolType":"M-2,0H2"}}
 }},
{"width":367,"height":305,"title":{"text":"20% Outcome Event"},
 "transform":[{"filter":"datum.g === 'C'"},{"fold":["True","Uncorrected","Corrected"],"as":["series","value"]}],
 "mark":{"type":"line","clip":true},
 "encoding":{
  "x":{"field":"p","type":"quantitative","scale":{"domain":[-3.96,129.96],"nice":false,"zero":false},
   "axis":{"title":"125 B providers","tickSize":10,"labelPadding":12,"titlePadding":21,"labelOverlap":false,"labelBound":false,"labelFlush":false,
    "values":[1,2,3,4,5,6,7,8,9,10,11,12,13,14,15,16,17,18,19,20,21,22,23,24,25,26,27,28,29,30,31,32,33,34,35,36,37,38,39,40,41,42,43,44,45,46,47,48,49,50,51,52,53,54,55,56,57,58,59,60,61,62,63,64,65,66,67,68,69,70,71,72,73,74,75,76,77,78,79,80,81,82,83,84,85,86,87,88,89,90,91,92,93,94,95,96,97,98,99,100,101,102,103,104,105,106,107,108,109,110,111,112,113,114,115,116,117,118,119,120,121,122,123,124,125],
    "labelExpr":"indexof([1,12,25,38,51,64,77,90,104,120], datum.value) >= 0 ? datum.label : ''"}},
  "y":{"field":"value","type":"quantitative","scale":{"domain":[0.332,0.818],"nice":false,"zero":false},
   "axis":{"title":"SRR estimate","values":[0.4,0.5,0.6,0.7,0.8],"format":".1f","tickSize":9,"labelPadding":14,"labelAngle":-90,"labelAlign":"center","labelBaseline":"alphabetic","titlePadding":25}},
  "color":{"field":"series","type":"nominal","scale":{"domain":["True","Uncorrected","Corrected"],"range":["#bdbdbd","#000000","#000000"]},"legend":{"title":null,"symbolType":"M-2,0H2"}},
  "strokeDash":{"field":"series","type":"nominal","scale":{"domain":["True","Uncorrected","Corrected"],"range":[[1,0],[1,0],[6,5]]},"legend":{"title":null,"symbolType":"M-2,0H2"}},
  "strokeWidth":{"field":"series","type":"nominal","scale":{"type":"ordinal","domain":["True","Uncorrected","Corrected"],"range":[5,1.5,1.5]},"legend":{"title":null,"symbolType":"M-2,0H2"}}
 }},
{"width":367,"height":305,"title":{"text":"20% Outcome Event"},
 "transform":[{"filter":"datum.g === 'D'"},{"fold":["True","Uncorrected","Corrected"],"as":["series","value"]}],
 "mark":{"type":"line","clip":true},
 "encoding":{
  "x":{"field":"p","type":"quantitative","scale":{"domain":[-3.96,129.96],"nice":false,"zero":false},
   "axis":{"title":"125 W providers","tickSize":10,"labelPadding":12,"titlePadding":21,"labelOverlap":false,"labelBound":false,"labelFlush":false,
    "values":[1,2,3,4,5,6,7,8,9,10,11,12,13,14,15,16,17,18,19,20,21,22,23,24,25,26,27,28,29,30,31,32,33,34,35,36,37,38,39,40,41,42,43,44,45,46,47,48,49,50,51,52,53,54,55,56,57,58,59,60,61,62,63,64,65,66,67,68,69,70,71,72,73,74,75,76,77,78,79,80,81,82,83,84,85,86,87,88,89,90,91,92,93,94,95,96,97,98,99,100,101,102,103,104,105,106,107,108,109,110,111,112,113,114,115,116,117,118,119,120,121,122,123,124,125],
    "labelExpr":"indexof([1,12,25,38,51,64,77,90,104,120], datum.value) >= 0 ? datum.label : ''"}},
  "y":{"field":"value","type":"quantitative","scale":{"domain":[1.224,1.926],"nice":false,"zero":false},
   "axis":{"title":"SRR estimate","values":[1.3,1.4,1.5,1.6,1.7,1.8,1.9],"format":".1f","tickSize":9,"labelPadding":14,"labelAngle":-90,"labelAlign":"center","labelBaseline":"alphabetic","titlePadding":25}},
  "color":{"field":"series","type":"nominal","scale":{"domain":["True","Uncorrected","Corrected"],"range":["#bdbdbd","#000000","#000000"]},"legend":{"title":null,"symbolType":"M-2,0H2"}},
  "strokeDash":{"field":"series","type":"nominal","scale":{"domain":["True","Uncorrected","Corrected"],"range":[[1,0],[1,0],[6,5]]},"legend":{"title":null,"symbolType":"M-2,0H2"}},
  "strokeWidth":{"field":"series","type":"nominal","scale":{"type":"ordinal","domain":["True","Uncorrected","Corrected"],"range":[5,1.5,1.5]},"legend":{"title":null,"symbolType":"M-2,0H2"}}
 }}
]
}
